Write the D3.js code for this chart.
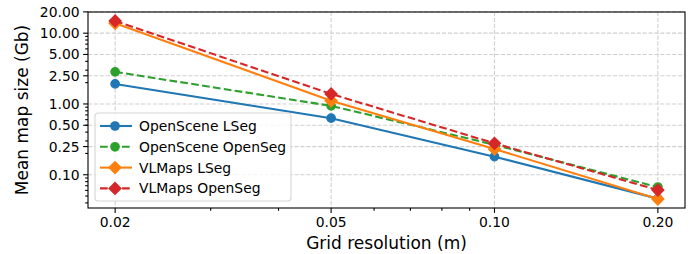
<!DOCTYPE html>
<html>
<head>
<meta charset="utf-8">
<script src="https://cdn.jsdelivr.net/npm/d3@7"></script>
<style>
  body { margin: 0; background: #fff; }
  svg { display: block; font-family: 'DejaVu Sans', sans-serif; }
</style>
</head>
<body>
<div id="chart"></div>
<script>
const resolutions = [0.02, 0.05, 0.1, 0.2];

const openSceneLSeg = [1.92, 0.63, 0.18, 0.046];
const openSceneOpenSeg = [2.84, 0.94, 0.265, 0.067];
const vlmapsLSeg = [13.8, 1.11, 0.231, 0.0453];
const vlmapsOpenSeg = [14.9, 1.385, 0.278, 0.0608];

const xTicks = [0.02, 0.05, 0.1, 0.2];
const yTicks = [0.1, 0.25, 0.5, 1, 2.5, 5, 10, 20];

const series = [
  { name: 'OpenScene LSeg', values: openSceneLSeg, color: '#1f77b4', dashed: false, marker: 'circle' },
  { name: 'OpenScene OpenSeg', values: openSceneOpenSeg, color: '#2ca02c', dashed: true, marker: 'circle' },
  { name: 'VLMaps LSeg', values: vlmapsLSeg, color: '#ff7f0e', dashed: false, marker: 'diamond' },
  { name: 'VLMaps OpenSeg', values: vlmapsOpenSeg, color: '#d62728', dashed: true, marker: 'diamond' },
];

const width = 700;
const height = 254;
const margin = { top: 12, right: 15, bottom: 46, left: 88 };

const usableArea = {
  left: margin.left,
  top: margin.top,
  right: width - margin.right,
  bottom: height - margin.bottom,
};

// matplotlib-style 5% margins in log space
function logPad(extent) {
  let a = Math.log10(extent[0]);
  let b = Math.log10(extent[1]);
  let p = (b - a) * 0.05;
  return [Math.pow(10, a - p), Math.pow(10, b + p)];
}

const allValues = series.flatMap((s) => s.values);

const xScale = d3
  .scaleLog()
  .domain(logPad(d3.extent(resolutions)))
  .range([usableArea.left, usableArea.right]);

const yScale = d3
  .scaleLog()
  .domain(logPad(d3.extent(allValues)))
  .range([usableArea.bottom, usableArea.top]);

const svg = d3
  .select('#chart')
  .append('svg')
  .attr('width', width)
  .attr('height', height);

function minorTicks(domain) {
  let out = [];
  for (let e = Math.floor(Math.log10(domain[0])); e <= Math.ceil(Math.log10(domain[1])); e++) {
    for (let k = 2; k <= 9; k++) {
      let v = k * Math.pow(10, e);
      if (v >= domain[0] && v <= domain[1]) out.push(v);
    }
  }
  return out;
}

// gridlines
const grid = svg.append('g').attr('class', 'gridlines');

grid
  .selectAll('line.gx')
  .data(xTicks)
  .join('line')
  .attr('x1', (d) => xScale(d))
  .attr('x2', (d) => xScale(d))
  .attr('y1', usableArea.top)
  .attr('y2', usableArea.bottom);

grid
  .selectAll('line.gy')
  .data(yTicks)
  .join('line')
  .attr('class', 'gy')
  .attr('x1', usableArea.left)
  .attr('x2', usableArea.right)
  .attr('y1', (d) => yScale(d))
  .attr('y2', (d) => yScale(d));

grid
  .selectAll('line')
  .attr('stroke', '#cfcfcf')
  .attr('stroke-width', 1.1)
  .attr('stroke-dasharray', '4.1,1.8');

// lines and markers
const lineGen = d3
  .line()
  .x((d) => xScale(d[0]))
  .y((d) => yScale(d[1]));

const diamond = (r) => `M0,${-r}L${r},0L0,${r}L${-r},0Z`;

series.forEach((s) => {
  let pts = resolutions.map((r, i) => [r, s.values[i]]);
  let g = svg.append('g').attr('class', 'series');

  g.append('path')
    .datum(pts)
    .attr('d', lineGen)
    .attr('fill', 'none')
    .attr('stroke', s.color)
    .attr('stroke-width', 2.08)
    .attr('stroke-dasharray', s.dashed ? '7.7,3.3' : null);

  if (s.marker === 'circle') {
    g.selectAll('circle')
      .data(pts)
      .join('circle')
      .attr('cx', (d) => xScale(d[0]))
      .attr('cy', (d) => yScale(d[1]))
      .attr('r', 4.17)
      .attr('fill', s.color)
      .attr('stroke', s.color)
      .attr('stroke-width', 1.4);
  } else {
    g.selectAll('path.mk')
      .data(pts)
      .join('path')
      .attr('class', 'mk')
      .attr('transform', (d) => `translate(${xScale(d[0])},${yScale(d[1])})`)
      .attr('d', diamond(5.9))
      .attr('fill', s.color)
      .attr('stroke', s.color)
      .attr('stroke-width', 1.4);
  }
});

// axes
const xAxis = svg.append('g').attr('class', 'x-axis');
const yAxis = svg.append('g').attr('class', 'y-axis');

xAxis
  .selectAll('line.minor')
  .data(minorTicks(xScale.domain()).filter((v) => !xTicks.some((t) => Math.abs(t - v) < 1e-9)))
  .join('line')
  .attr('class', 'minor')
  .attr('x1', (d) => xScale(d))
  .attr('x2', (d) => xScale(d))
  .attr('y1', usableArea.bottom)
  .attr('y2', usableArea.bottom + 2.8);

xAxis
  .selectAll('line.major')
  .data(xTicks)
  .join('line')
  .attr('class', 'major')
  .attr('x1', (d) => xScale(d))
  .attr('x2', (d) => xScale(d))
  .attr('y1', usableArea.bottom)
  .attr('y2', usableArea.bottom + 4.9);

xAxis
  .selectAll('text')
  .data(xTicks)
  .join('text')
  .attr('x', (d) => xScale(d))
  .attr('y', usableArea.bottom + 8.4 + 10.6)
  .attr('text-anchor', 'middle')
  .attr('font-size', 13.9)
  .text((d) => d.toFixed(2));

yAxis
  .selectAll('line.minor')
  .data(minorTicks(yScale.domain()))
  .join('line')
  .attr('class', 'minor')
  .attr('x1', usableArea.left - 2.8)
  .attr('x2', usableArea.left)
  .attr('y1', (d) => yScale(d))
  .attr('y2', (d) => yScale(d));

yAxis
  .selectAll('line.major')
  .data(yTicks)
  .join('line')
  .attr('class', 'major')
  .attr('x1', usableArea.left - 4.9)
  .attr('x2', usableArea.left)
  .attr('y1', (d) => yScale(d))
  .attr('y2', (d) => yScale(d));

yAxis
  .selectAll('text')
  .data(yTicks)
  .join('text')
  .attr('x', usableArea.left - 8.4)
  .attr('y', (d) => yScale(d))
  .attr('dy', '0.36em')
  .attr('text-anchor', 'end')
  .attr('font-size', 13.9)
  .text((d) => d.toFixed(2));

svg.selectAll('.x-axis line, .y-axis line')
  .attr('stroke', '#000')
  .attr('stroke-width', 1.1);

// frame
svg
  .append('rect')
  .attr('x', usableArea.left)
  .attr('y', usableArea.top)
  .attr('width', usableArea.right - usableArea.left)
  .attr('height', usableArea.bottom - usableArea.top)
  .attr('fill', 'none')
  .attr('stroke', '#000')
  .attr('stroke-width', 1.1);

// axis labels
svg
  .append('text')
  .attr('x', (usableArea.left + usableArea.right) / 2)
  .attr('y', 249)
  .attr('text-anchor', 'middle')
  .attr('font-size', 17)
  .text('Grid resolution (m)');

svg
  .append('text')
  .attr('transform', `translate(28, ${(usableArea.top + usableArea.bottom) / 2}) rotate(-90)`)
  .attr('text-anchor', 'middle')
  .attr('font-size', 17)
  .text('Mean map size (Gb)');

// legend
const legend = svg.append('g').attr('class', 'legend').attr('transform', 'translate(95, 113)');

legend
  .append('rect')
  .attr('width', 196)
  .attr('height', 88)
  .attr('rx', 3)
  .attr('fill', 'rgba(255,255,255,0.8)')
  .attr('stroke', '#d5d5d5')
  .attr('stroke-width', 1.1);

const rows = legend
  .selectAll('g.row')
  .data(series)
  .join('g')
  .attr('class', 'row')
  .attr('transform', (d, i) => `translate(0, ${13 + i * 20.8})`);

rows
  .append('line')
  .attr('x1', 5)
  .attr('x2', 37)
  .attr('stroke', (d) => d.color)
  .attr('stroke-width', 2.08)
  .attr('stroke-dasharray', (d) => (d.dashed ? '7.7,3.3' : null));

rows.each(function (d) {
  let r = d3.select(this);
  if (d.marker === 'circle') {
    r.append('circle').attr('cx', 20).attr('r', 4.17);
  } else {
    r.append('path').attr('transform', 'translate(20,0)').attr('d', diamond(5.9));
  }
  r.select(':last-child')
    .attr('fill', d.color)
    .attr('stroke', d.color)
    .attr('stroke-width', 1.4);
});

rows
  .append('text')
  .attr('x', 44)
  .attr('dy', '0.36em')
  .attr('font-size', 13.9)
  .text((d) => d.name);
</script>
</body>
</html>
